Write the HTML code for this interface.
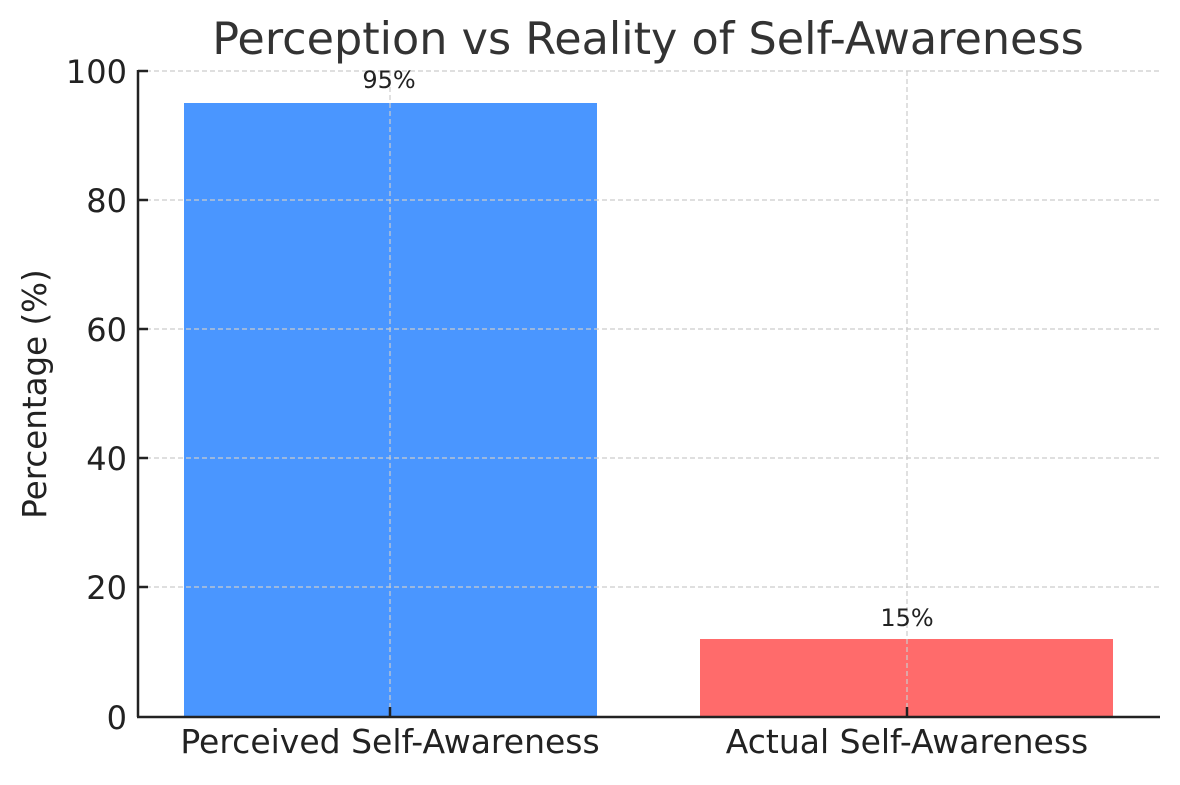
<!DOCTYPE html>
<html><head><meta charset="utf-8"><style>html,body{margin:0;padding:0;background:#fff}</style></head>
<body>
<svg width="1180" height="780" viewBox="0 0 1180 780" xmlns="http://www.w3.org/2000/svg" font-family="DejaVu Sans, Liberation Sans, sans-serif">
<rect width="1180" height="780" fill="#fff"/>
<text x="648" y="54" font-size="44.5" fill="#333" text-anchor="middle">Perception vs Reality of Self-Awareness</text>
<rect x="184" y="103" width="413" height="613" fill="#4a96ff"/>
<rect x="700" y="639" width="413" height="77" fill="#ff6b6b"/>
<g stroke="#ccc" stroke-width="1.2" stroke-dasharray="5,3" fill="none">
<line x1="138" y1="71" x2="1160" y2="71"/>
<line x1="138" y1="200" x2="1160" y2="200"/>
<line x1="138" y1="329" x2="1160" y2="329"/>
<line x1="138" y1="458" x2="1160" y2="458"/>
<line x1="138" y1="587" x2="1160" y2="587"/>
<line x1="390" y1="71" x2="390" y2="716"/>
<line x1="907" y1="71" x2="907" y2="716"/>
</g>
<g stroke="#222" stroke-width="2.5">
<line x1="138" y1="70" x2="138" y2="717"/>
<line x1="137" y1="717" x2="1160" y2="717"/>
<line x1="138" y1="71" x2="148" y2="71"/>
<line x1="138" y1="200" x2="148" y2="200"/>
<line x1="138" y1="329" x2="148" y2="329"/>
<line x1="138" y1="458" x2="148" y2="458"/>
<line x1="138" y1="587" x2="148" y2="587"/>
<line x1="390" y1="717" x2="390" y2="707"/>
<line x1="907" y1="717" x2="907" y2="707"/>
</g>
<g font-size="32" fill="#222" text-anchor="end">
<text x="127" y="83">100</text>
<text x="127" y="212">80</text>
<text x="127" y="341">60</text>
<text x="127" y="470">40</text>
<text x="127" y="599">20</text>
<text x="127" y="729">0</text>
</g>
<g font-size="33" fill="#222" text-anchor="middle">
<text x="390" y="753">Perceived Self-Awareness</text>
<text x="907" y="753">Actual Self-Awareness</text>
</g>
<text transform="translate(46,394) rotate(-90)" font-size="32.5" fill="#222" text-anchor="middle">Percentage (%)</text>
<text x="389" y="88" font-size="24" fill="#222" text-anchor="middle">95%</text>
<text x="907" y="626" font-size="24" fill="#222" text-anchor="middle">15%</text>
</svg>
</body></html>
